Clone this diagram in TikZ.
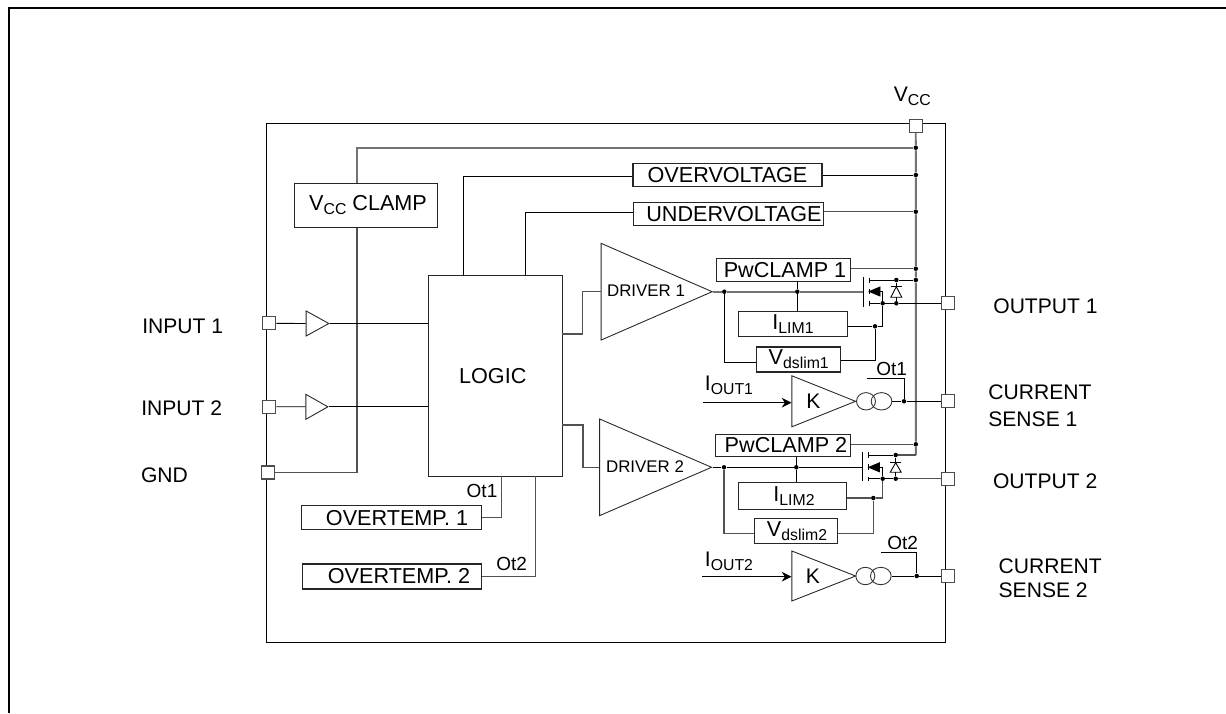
\documentclass[tikz,border=0pt]{standalone}
\usepackage{fontspec}
\setmainfont{Liberation Sans}
\usetikzlibrary{shapes.geometric,arrows.meta}
\newcommand{\un}{0.02cm}
\newcommand{\fs}[1]{\fontsize{#1}{#1}\selectfont}
\newcommand{\sbt}[1]{\raisebox{-0.35ex}{\fs{9}#1}}
\tikzset{
	wire/.style={draw=black,line width=0.5pt},
	gwire/.style={draw=black!55,line width=1.1pt},
	gthin/.style={draw=black!68,line width=0.8pt},
	box/.style 2 args={draw=black!85,line width=0.6pt,fill=white,inner sep=0pt,font=\fs{12.3},minimum width=#1*\un,minimum height=#2*\un},
	pad/.style={draw=black!70,line width=0.7pt,fill=white,inner sep=0pt,minimum size=13*\un},
	dot/.style={circle,fill=black,inner sep=0pt,minimum size=4.5*\un},
	tri/.style 2 args={isosceles triangle,isosceles triangle stretches,draw=black!85,line width=0.5pt,inner sep=0pt,anchor=apex,minimum height=#1*\un,minimum width=#2*\un},
	coil/.style={ellipse,draw=black!80,line width=0.5pt,inner sep=0pt,minimum height=17.4*\un,minimum width=#1*\un},
	lbl/.style={inner sep=0pt,font=\fs{12}},
	sml/.style={inner sep=0pt,font=\fs{10.8}},
	pin/.style={inner sep=0pt,font=\fs{12},anchor=west,align=left}
}
\begin{document}
\begin{tikzpicture}[x=\un,y=-\un,>={Stealth[length=5.5pt,width=5.5pt]},line join=miter,font=\fs{12}]
	\useasboundingbox (0,0) rectangle (1226,713);
	% frame and chip outline
	\draw[line width=1.3pt] (9,713) -- (9,8) -- (1226,8);
	\draw[wire] (266,123.5) rectangle (945.7,642.7);
	% pads
	\node[pad] (pVcc) at (915.7,125.7) {};
	\node[pad] (pIn1) at (269.3,323.3) {};
	\node[pad] (pIn2) at (269.3,406.7) {};
	\node[pad] (pGnd) at (267.7,472.5) {};
	\node[pad] (pOut1) at (948.3,303.3) {};
	\node[pad] (pSen1) at (948.3,401.3) {};
	\node[pad] (pOut2) at (948,478.7) {};
	\node[pad] (pSen2) at (948,576) {};
	% pad names
	\node[lbl] (tVcc) at (912.3,96.7) {V\sbt{CC}};
	\node[pin] (tIn1) at (142,326.7) {INPUT 1};
	\node[pin] (tIn2) at (141,408.3) {INPUT 2};
	\node[pin] (tGnd) at (140.7,475) {GND};
	\node[pin] (tOut1) at (993,306) {OUTPUT 1};
	\node[pin] (tSen1) at (988,405.7) {CURRENT\\[3.5pt]SENSE 1};
	\node[pin] (tOut2) at (992.7,481.7) {OUTPUT 2};
	\node[pin] (tSen2) at (998.3,578.2) {CURRENT\\[2pt]SENSE 2};
	% blocks
	\node[box={142.7}{44}] (vccclamp) at (366.3,205.3) {\hspace*{2pt}V\sbt{CC} CLAMP};
	\node[box={133.7}{200.6}] (logic) at (495.2,376) {\hspace*{-2.8pt}LOGIC};
	\node[box={189}{23}] (ov) at (727.5,174.8) {OVERVOLTAGE};
	\node[box={190.4}{22.7}] (uv) at (728.5,213.7) {\hspace*{6.2pt}\raisebox{-1pt}{UNDERVOLTAGE}};
	\node[box={180}{24.7}] (ot1) at (391.3,517.6) {\hspace*{6.5pt}OVERTEMP. 1};
	\node[box={179.3}{25}] (ot2) at (391.7,576.5) {\hspace*{8.3pt}OVERTEMP. 2};
	\node[box={134}{22.6}] (pw1) at (783.7,270) {\hspace*{1.5pt}PwCLAMP 1};
	\node[box={134.3}{22.3}] (pw2) at (783,445.2) {\hspace*{3.4pt}PwCLAMP 2};
	\node[box={108.6}{25}] (il1) at (793,324.2) {I\sbt{LIM1}};
	\node[box={108}{27.3}] (il2) at (792.7,496.3) {\hspace*{1.5pt}I\sbt{LIM2}};
	\node[box={84}{25}] (vd1) at (798.7,359.5) {V\sbt{dslim1}};
	\node[box={83.3}{24.6}] (vd2) at (795.7,531) {\hspace*{1.5pt}V\sbt{dslim2}};
	% buffers, drivers, sense amplifiers
	\node[tri={22.7}{25}] (buf1) at (330,323.5) {};
	\node[tri={22}{25}] (buf2) at (329,406.8) {};
	\node[tri={111}{96.7}] (drv1) at (713.3,291.7) {};
	\node[tri={112}{96.7}] (drv2) at (712.7,467.3) {};
	\node[tri={63.7}{51}] (amp1) at (856.7,401.3) {};
	\node[tri={63.7}{50}] (amp2) at (856.7,576) {};
	\node[lbl,font=\fs{9.6}] (tDrv1) at (646,290.7) {DRIVER 1};
	\node[lbl,font=\fs{9.6}] (tDrv2) at (645,467) {DRIVER 2};
	\node[lbl] (tK1) at (813.3,401.7) {K};
	\node[lbl] (tK2) at (813,576) {K};
	% rail junctions
	\foreach \nm/\yy in {jTop/147.7,jOv/175,jUv/211.7,jPw1/268.7,jD1/280,jPw2/444.3}
		\node[dot] (\nm) at (915.8,\yy) {};
	\coordinate (cTop) at (357,147.7);
	\coordinate (cOv) at (463.3,176);
	\coordinate (cUv) at (525.3,212.7);
	\coordinate (cRail) at (915.8,455);
	% supply lines
	\draw[gwire] (pVcc) -- (jTop) -- (jOv) -- (jUv) -- (jPw1) -- (jD1) -- (jPw2) -- (cRail);
	\draw[gwire] (jTop) -- (cTop) -- (vccclamp.north -| cTop);
	\draw[gthin] (vccclamp.south -| cTop) |- (pGnd);
	\draw[wire] (logic.north -| cOv) -- (cOv) -- (ov.west |- cOv);
	\draw[wire] (ov.east |- jOv) -- (jOv);
	\draw[wire] (logic.north -| cUv) -- (cUv) -- (uv.west |- cUv);
	\draw[gthin] (uv.east |- jUv) -- (jUv);
	\draw[gthin] (pw1.east |- jPw1) -- (jPw1);
	\draw[gthin] (pw2.east |- jPw2) -- (jPw2);
	% inputs
	\draw[wire] (pIn1) -- (buf1.lower side);
	\draw[wire] (pIn2) -- (buf2.lower side);
	\draw[wire] (buf1.apex) -- (logic.west |- buf1.apex);
	\draw[wire] (buf2.apex) -- (logic.west |- buf2.apex);
	% logic to drivers
	\coordinate (cD1) at (562,334);
	\coordinate (cD2) at (562,425);
	\draw[gthin] (cD1) -- (582.7,334) |- (drv1.lower side);
	\draw[gthin] (cD2) -- (583,425) |- (drv2.lower side);
	% overtemperature
	\coordinate (cT1) at (501.7,476.3);
	\coordinate (cT2) at (535.7,476.3);
	\draw[gthin] (ot1.east) -| (cT1);
	\draw[gthin] (ot2.east) -| (cT2);
	\node[sml] (tOtA) at (482,490.7) {Ot1};
	\node[sml] (tOtB) at (511.7,564) {Ot2};
	% power stage 1
	\node[dot] (g1a) at (724.3,291.7) {};
	\node[dot] (g1b) at (797.3,291.7) {};
	\node[dot] (s1a) at (882.7,303.3) {};
	\node[dot] (s1b) at (896.3,303.3) {};
	\node[dot] (d1b) at (896.3,280) {};
	\node[dot] (l1) at (875,326.3) {};
	\coordinate (gate1) at (863.7,291.7);
	\draw[gwire] (drv1.apex) -- (g1a) -- (g1b) -- (gate1);
	\draw[wire] (pw1.south -| g1b) -- (g1b) -- (il1.north -| g1b);
	\draw[wire] (g1a) |- (vd1.west |- 0,362.3);
	\draw[wire] (il1.east |- l1) -- (l1) -| (s1a);
	\draw[wire] (vd1.east |- 0,360) -| (l1);
	\draw[wire] (jD1) -- (d1b) -- (869.3,280);
	\draw[wire] (pOut1) -- (s1b) -- (s1a) -- (869.3,303.3);
	\draw[wire,line width=0.8pt] (863.7,277.3) -- (863.7,306.7);
	\foreach \ya/\yb in {277.7/282.7,289/294.3,300.7/305.7}
		\draw[wire,line width=0.7pt] (869.3,\ya) -- (869.3,\yb);
	\draw[wire] (s1a) -- (882.7,291.5) -- (878,291.5);
	\draw[wire,fill=black] (869.3,291.5) -- (880,287) -- (880,296) -- cycle;
	\draw[wire] (d1b) -- (896.3,286.7) (896.3,297.3) -- (s1b);
	\draw[wire] (890.8,286.7) -- (901.8,286.7);
	\draw[wire] (896.3,286.7) -- (890.8,297.3) -- (901.8,297.3) -- cycle;
	% power stage 2
	\node[dot] (g2a) at (724,467.3) {};
	\node[dot] (g2b) at (796.3,467.3) {};
	\node[dot] (s2a) at (882.7,478.7) {};
	\node[dot] (s2b) at (895.7,478.7) {};
	\node[dot] (d2b) at (895.7,455) {};
	\node[dot] (l2) at (873.3,498) {};
	\coordinate (gate2) at (862.7,467.3);
	\draw[wire] (drv2.apex) -- (g2a) -- (g2b) -- (gate2);
	\draw[wire] (pw2.south -| g2b) -- (g2b) -- (il2.north -| g2b);
	\draw[gthin] (g2a) |- (vd2.west |- 0,533.7);
	\draw[gthin] (il2.east |- l2) -- (l2) -| (s2a);
	\draw[gthin] (vd2.east |- 0,533.7) -| (l2);
	\draw[gthin] (cRail) -- (d2b);
	\draw[wire] (d2b) -- (868.7,455);
	\draw[gthin] (pOut2) -- (s2b);
	\draw[wire] (s2b) -- (s2a) -- (868.7,478.7);
	\draw[wire,line width=0.8pt] (862.7,452.3) -- (862.7,481.3);
	\foreach \ya/\yb in {452.3/457.7,464/470,476.7/481}
		\draw[wire,line width=0.7pt] (868.7,\ya) -- (868.7,\yb);
	\draw[wire] (s2a) -- (882.7,467.3) -- (878,467.3);
	\draw[wire,fill=black] (868.7,467.3) -- (879.5,462.8) -- (879.5,471.8) -- cycle;
	\draw[wire] (d2b) -- (895.7,462.7) (895.7,472.3) -- (s2b);
	\draw[wire] (890.2,462.7) -- (901.2,462.7);
	\draw[wire] (895.7,462.7) -- (890.2,472.3) -- (901.2,472.3) -- cycle;
	% current sense 1
	\node[lbl] (tIo1) at (729,385) {I\sbt{OUT1}};
	\coordinate (ci1) at (703,402.7);
	\draw[wire,->] (ci1) -- (amp1.lower side |- ci1);
	\node[coil=19] (cA1) at (866,401.3) {};
	\node[coil=20.7] (cB1) at (881.5,401.3) {};
	\node[dot] (o1) at (904,401.3) {};
	\coordinate (oe1) at (867.3,378);
	\draw[wire] (cB1) -- (o1) -- (pSen1);
	\draw[wire] (o1) |- (oe1);
	\node[sml] (tOtC) at (891.7,368.7) {Ot1};
	% current sense 2
	\node[lbl] (tIo2) at (729,561.7) {I\sbt{OUT2}};
	\coordinate (ci2) at (702,576.7);
	\draw[wire,->] (ci2) -- (amp2.lower side |- ci2);
	\node[coil=19] (cA2) at (865.3,576) {};
	\node[coil=20.7] (cB2) at (880.8,576) {};
	\node[dot] (o2) at (916.7,576) {};
	\coordinate (oe2) at (881.3,552.7);
	\draw[wire] (cB2) -- (o2) -- (pSen2);
	\draw[wire] (o2) |- (oe2);
	\node[sml] (tOtD) at (902.7,542.7) {Ot2};
\end{tikzpicture}
\end{document}
